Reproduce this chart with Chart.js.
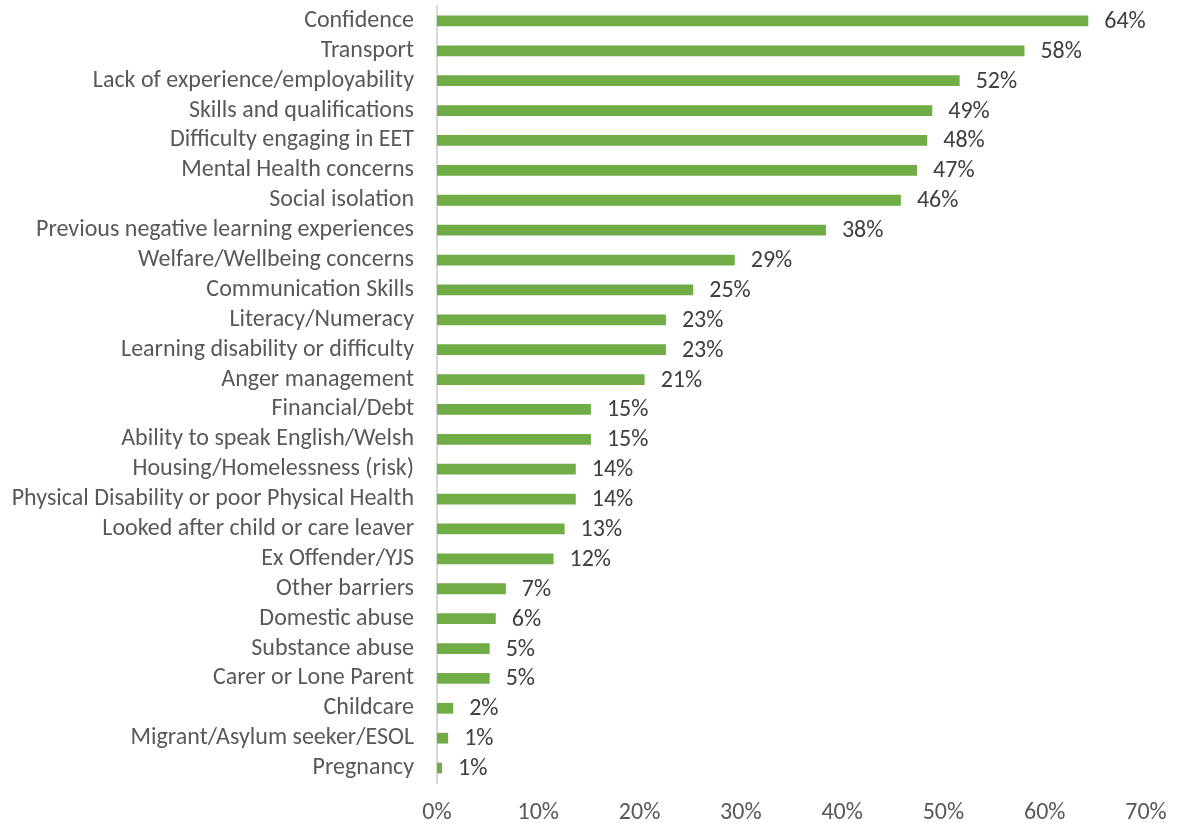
<!DOCTYPE html>
<html>
<head>
<meta charset="utf-8">
<script src="https://cdn.jsdelivr.net/npm/chart.js@4"></script>
<style>
html,body{margin:0;padding:0;background:#fff;}
#wrap{width:1177px;height:823px;}
</style>
</head>
<body>
<div id="wrap"><canvas id="c" width="1177" height="823"></canvas></div>
<script>
const categories = [
  "Confidence","Transport","Lack of experience/employability","Skills and qualifications",
  "Difficulty engaging in EET","Mental Health concerns","Social isolation",
  "Previous negative learning experiences","Welfare/Wellbeing concerns","Communication Skills",
  "Literacy/Numeracy","Learning disability or difficulty","Anger management","Financial/Debt",
  "Ability to speak English/Welsh","Housing/Homelessness (risk)","Physical Disability or poor Physical Health",
  "Looked after child or care leaver","Ex Offender/YJS","Other barriers","Domestic abuse",
  "Substance abuse","Carer or Lone Parent","Childcare","Migrant/Asylum seeker/ESOL","Pregnancy"
];
const values = [64.3,58.0,51.6,48.9,48.4,47.4,45.8,38.4,29.4,25.3,22.6,22.6,20.5,15.2,15.2,13.7,13.7,12.6,11.5,6.8,5.8,5.2,5.2,1.6,1.1,0.5];
const xTicks = [0,10,20,30,40,50,60,70];

const FONT = {family:"Carlito, 'Open Sans', sans-serif", size:24};

const dataLabels = {
  id:'dataLabels',
  afterDatasetsDraw(chart){
    const ctx = chart.ctx;
    const meta = chart.getDatasetMeta(0);
    ctx.save();
    ctx.font = FONT.size + "px " + FONT.family;
    ctx.fillStyle = '#404040';
    ctx.textBaseline = 'middle';
    ctx.textAlign = 'left';
    meta.data.forEach((el,i)=>{
      ctx.fillText(Math.round(values[i]) + '%', el.x + 16, el.y + 1);
    });
    ctx.restore();
  }
};

new Chart(document.getElementById('c'), {
  type:'bar',
  data:{
    labels:categories,
    datasets:[{
      data:values,
      backgroundColor:'#70AD47',
      borderWidth:0,
      categoryPercentage:1,
      barPercentage:0.36
    }]
  },
  options:{
    indexAxis:'y',
    responsive:false,
    animation:false,
    layout:{padding:{top:6,right:31,left:0,bottom:0}},
    plugins:{legend:{display:false},tooltip:{enabled:false}},
    scales:{
      x:{
        min:0,max:70,
        afterBuildTicks(scale){ scale.ticks = xTicks.map(v=>({value:v})); },
        afterFit(scale){ scale.height = 40; scale.paddingLeft = 0; scale.paddingRight = 0; scale.paddingTop = 0; scale.paddingBottom = 0; },
        grid:{display:false, drawTicks:false},
        border:{display:false},
        ticks:{padding:16, color:'#595959', font:FONT, callback:v=>v+'%', maxRotation:0}
      },
      y:{
        afterFit(scale){ scale.width = 437; scale.paddingTop = 0; scale.paddingBottom = 0; scale.paddingLeft = 0; scale.paddingRight = 0; },
        grid:{display:false, drawTicks:false},
        border:{display:true, color:'#d9d9d9', width:2},
        ticks:{padding:23, color:'#595959', font:FONT, autoSkip:false}
      }
    }
  },
  plugins:[dataLabels]
});
</script>
</body>
</html>
